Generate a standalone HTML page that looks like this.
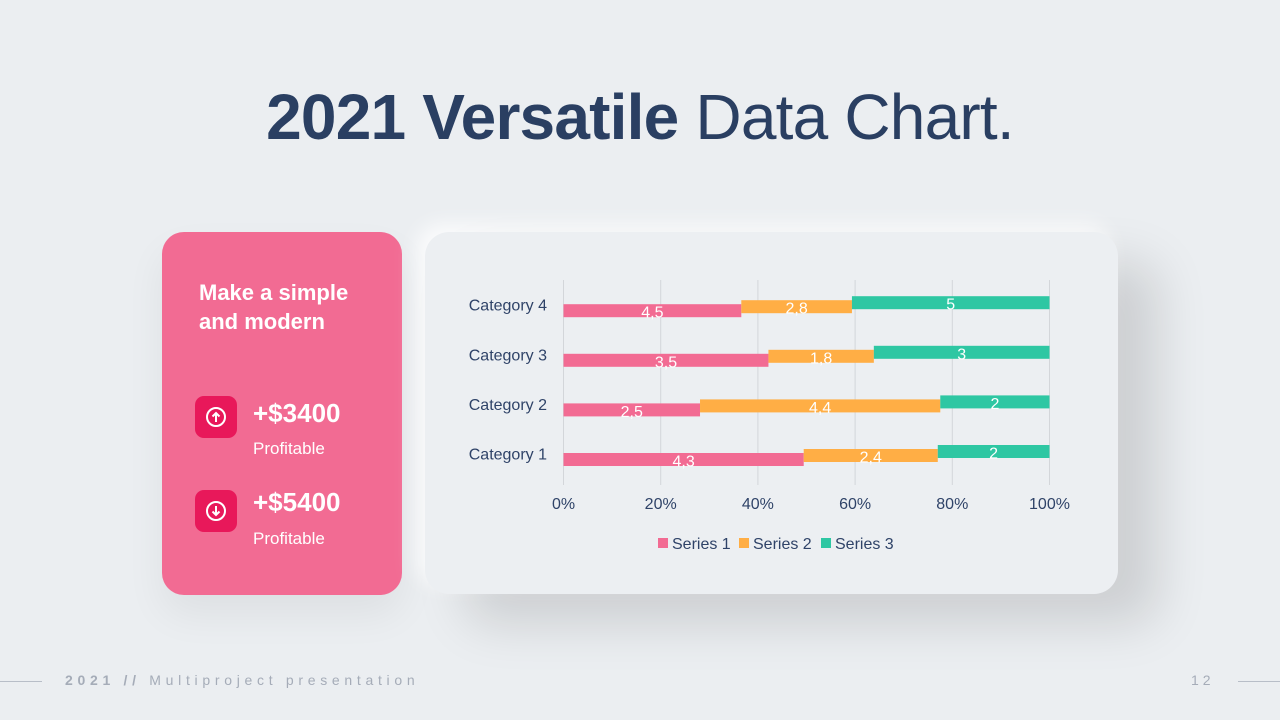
<!DOCTYPE html>
<html><head><meta charset="utf-8"><style>
body{margin:0;width:1280px;height:720px;background:#ebeef1;font-family:"Liberation Sans",sans-serif;position:relative;overflow:hidden}
.abs{position:absolute}
h1{position:absolute;top:80px;left:0;width:1280px;text-align:center;margin:0;font-size:64px;color:#2a3f62;font-weight:normal;letter-spacing:-0.8px}
h1 b{font-weight:bold}
.card{left:162px;top:232px;width:240px;height:363px;background:#f26b93;border-radius:22px;box-shadow:0 20px 40px rgba(0,0,0,.06)}
.panel{left:425px;top:232px;width:693px;height:362px;background:#eceff2;border-radius:24px;box-shadow:40px 30px 50px rgba(0,0,0,.13),-8px -8px 20px rgba(255,255,255,.8)}
.ic{width:42px;height:42px;background:#e8185a;border-radius:9px}
.amt{color:#fff;font-weight:bold;font-size:26px}
.sub{color:#fff;font-size:17px}
</style></head><body>
<h1><b>2021 Versatile</b> Data Chart.</h1>
<div class="abs card">
 <div class="abs" style="left:37px;top:46px;color:#fff;font-weight:bold;font-size:22px;line-height:29px">Make a simple<br>and modern</div>
 <div class="abs ic" style="left:33px;top:164px"><svg width="42" height="42"><circle cx="21" cy="21" r="9" fill="none" stroke="#fff" stroke-width="2"/><path d="M21 26V17M17.5 20.5L21 17L24.5 20.5" stroke="#fff" stroke-width="2" fill="none"/></svg></div>
 <div class="abs amt" style="left:91px;top:166px">+$3400</div>
 <div class="abs sub" style="left:91px;top:207px">Profitable</div>
 <div class="abs ic" style="left:33px;top:258px"><svg width="42" height="42"><circle cx="21" cy="21" r="9" fill="none" stroke="#fff" stroke-width="2"/><path d="M21 16V25M17.5 21.5L21 25L24.5 21.5" stroke="#fff" stroke-width="2" fill="none"/></svg></div>
 <div class="abs amt" style="left:91px;top:255px">+$5400</div>
 <div class="abs sub" style="left:91px;top:297px">Profitable</div>
</div>
<div class="abs panel"></div>
<svg class="abs" style="left:0;top:0" width="1280" height="720" id="chart"></svg>
<div class="abs" style="left:0;top:681px;width:42px;height:1px;background:#b8bec8"></div>
<div class="abs" style="left:1238px;top:681px;width:42px;height:1px;background:#b8bec8"></div>
<div class="abs" style="left:65px;top:672px;font-size:14px;letter-spacing:4.7px;color:#a5acb8"><b>2021 //</b> Multiproject presentation</div>
<div class="abs" style="left:1191px;top:672px;font-size:14px;letter-spacing:4px;color:#a5acb8">12</div>
<script>
const categories=["Category 1","Category 2","Category 3","Category 4"];
const series1=[4.3,2.5,3.5,4.5];
const series2=[2.4,4.4,1.8,2.8];
const series3=[2,2,3,5];
const seriesNames=["Series 1","Series 2","Series 3"];
const ticks=[0,20,40,60,80,100];
const colors=["#f26b93","#ffae45","#2ec7a3"];
const NS="http://www.w3.org/2000/svg";
const svg=document.getElementById('chart');
const x0=563.5,pw=486;
const xs=p=>x0+p/100*pw;
const yc=i=>459.5-i*49.6;
function mk(t,a){const e=document.createElementNS(NS,t);for(const k in a)e.setAttribute(k,a[k]);svg.appendChild(e);return e;}
ticks.forEach(t=>{
 const l=mk('line',{x1:xs(t),x2:xs(t),y1:280,y2:485,stroke:'#d3d6da','stroke-width':1});
 
 
 const tx=mk('text',{x:xs(t),y:509,'text-anchor':'middle','font-size':16,fill:'#2f4368','font-family':'Liberation Sans'});
 tx.textContent=t+'%';
 
 
});
const all=[series1,series2,series3];
categories.forEach((c,i)=>{
 const tot=series1[i]+series2[i]+series3[i];
 let acc=0;
 all.forEach((s,k)=>{
  const v=s[i],a=acc/tot*100,b=(acc+v)/tot*100;acc+=v;
  const cy=yc(i)-4*k;
  const r=mk('rect',{x:xs(a),y:cy-6.5,width:xs(b)-xs(a),height:13,fill:colors[k]});
  
  
  const t=mk('text',{x:(xs(a)+xs(b))/2,y:cy+7,'text-anchor':'middle','font-size':16,fill:'#fff','font-family':'Liberation Sans'});
  t.textContent=String(v).replace('.',',');
  
  
 });
 const ct=mk('text',{x:547,y:yc(i)+0,'text-anchor':'end','font-size':16,fill:'#2f4368','font-family':'Liberation Sans'});
 ct.textContent=c;
 
 
});
const lx=[658,739,821];
seriesNames.forEach((n,k)=>{
 const r=mk('rect',{x:lx[k],y:538,width:10,height:10,fill:colors[k]});
 
 
 const t=mk('text',{x:lx[k]+14,y:549,'font-size':16,fill:'#2f4368','font-family':'Liberation Sans'});
 t.textContent=n;
 
 
});
</script>
</body></html>
